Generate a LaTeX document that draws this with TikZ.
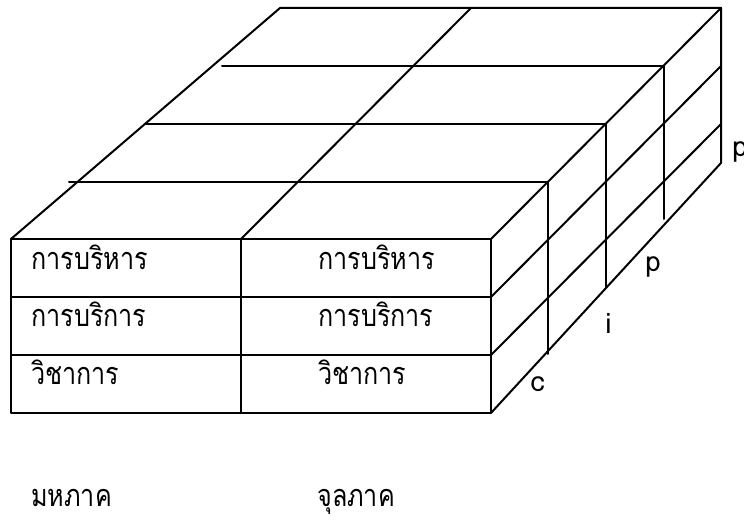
\documentclass[tikz,border=0pt]{standalone}
\usepackage{graphicx}
\usepackage{fontspec}
\newfontfamily\thaifont[Script=Thai]{Loma}
\newcommand{\thn}[1]{\scalebox{0.82}[1]{#1}}
\begin{document}
\begin{tikzpicture}[x=0.75pt,y=-0.75pt,
  edge/.style={line width=1.5pt, line cap=round, line join=round},
  lbl/.style={anchor=base west, inner sep=0pt, font=\thaifont\fontsize{23}{27}\selectfont},
  ltr/.style={anchor=base west, inner sep=0pt, font=\thaifont\fontsize{21}{25}\selectfont}]
\useasboundingbox (0,0) rectangle (744,520);
% front face
\draw[edge] (11,239) rectangle (491,413);
\draw[edge] (241,239) -- (241,413);
\draw[edge] (11,297) -- (491,297);
\draw[edge] (11,355) -- (491,355);
% top face
\draw[edge] (11,239) -- (280,8) -- (721,8) -- (491,239);
\draw[edge] (241,239) -- (471,8);
\draw[edge] (69,182) -- (548,182);
\draw[edge] (145,124) -- (606,124);
\draw[edge] (222,66) -- (664,66);
% right face
\draw[edge] (721,8) -- (721,163) -- (491,413);
\draw[edge] (721,66) -- (491,297);
\draw[edge] (721,124) -- (491,355);
\draw[edge] (548,182) -- (548,354);
\draw[edge] (606,124) -- (606,287);
\draw[edge] (664,66) -- (664,219);
% labels
\node[lbl] (a1) at (31,270) {\thn{การบริหาร}};
\node[lbl] (a2) at (31,327) {\thn{การบริการ}};
\node[lbl] (a3) at (31,385) {\thn{วิชาการ}};
\node[lbl] (b1) at (318,270) {\thn{การบริหาร}};
\node[lbl] (b2) at (318,327) {\thn{การบริการ}};
\node[lbl] (b3) at (318,385) {\thn{วิชาการ}};
\node[lbl] (m1) at (31,507) {\thn{มหภาค}};
\node[lbl] (m2) at (317,507) {\thn{จุลภาค}};
\node[ltr] (p1) at (732,157) {p};
\node[ltr] (p2) at (645,272) {p};
\node[ltr] (i1) at (605,334) {i};
\node[ltr] (c1) at (530,392) {c};
\end{tikzpicture}
\end{document}
